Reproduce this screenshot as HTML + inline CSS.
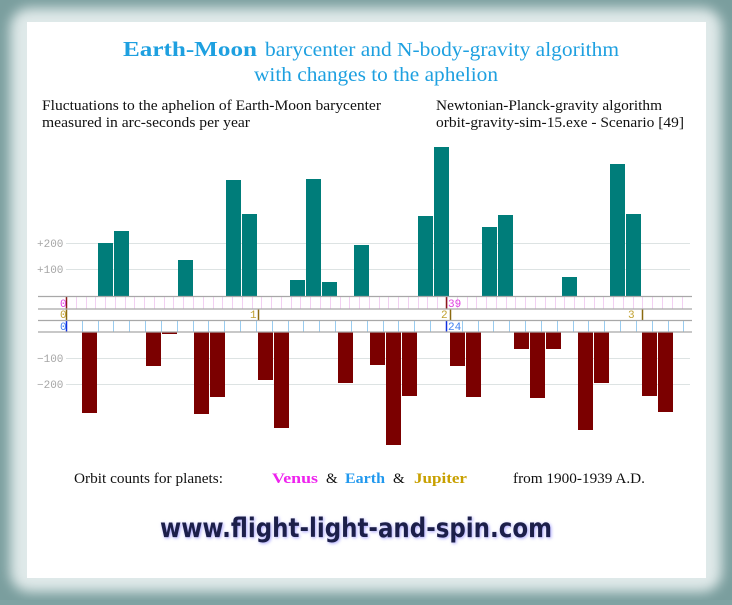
<!DOCTYPE html>
<html><head><meta charset="utf-8"><style>
body{margin:0;width:732px;height:600px;overflow:hidden;background:#7fa3a3;}
</style></head><body>
<svg width="732" height="600" xmlns="http://www.w3.org/2000/svg" font-family="Liberation Serif, serif">
<defs>
<filter id="blur"><feGaussianBlur stdDeviation="6"/></filter>
<filter id="glow"><feGaussianBlur stdDeviation="1.5"/></filter>
</defs>
<rect width="732" height="600" fill="#7a9e9e"/>
<rect x="10" y="8" width="712" height="584" rx="20" fill="#dfe9e9" filter="url(#blur)"/>
<rect x="27" y="22" width="679" height="556" fill="#fff"/>
<text x="123" y="56" font-size="21" fill="#1ea0e0" font-weight="bold" textLength="134" lengthAdjust="spacingAndGlyphs">Earth-Moon</text>
<text x="265" y="56" font-size="20" fill="#1ea0e0" textLength="354" lengthAdjust="spacingAndGlyphs">barycenter and N-body-gravity algorithm</text>
<text x="254" y="81" font-size="20" fill="#1ea0e0" textLength="244" lengthAdjust="spacingAndGlyphs">with changes to the aphelion</text>
<g font-size="15" fill="#111">
<text x="42" y="110" textLength="339" lengthAdjust="spacingAndGlyphs">Fluctuations to the aphelion of Earth-Moon barycenter</text>
<text x="42" y="127" textLength="208" lengthAdjust="spacingAndGlyphs">measured in arc-seconds per year</text>
<text x="436" y="110" textLength="226" lengthAdjust="spacingAndGlyphs">Newtonian-Planck-gravity algorithm</text>
<text x="436" y="127" textLength="248" lengthAdjust="spacingAndGlyphs">orbit-gravity-sim-15.exe - Scenario [49]</text>
</g>
<g stroke="#dde3e3" stroke-width="1">
<line x1="66" y1="243.5" x2="690" y2="243.5"/><line x1="66" y1="269.5" x2="690" y2="269.5"/>
<line x1="66" y1="358.5" x2="690" y2="358.5"/><line x1="66" y1="384.5" x2="690" y2="384.5"/>
</g>
<g font-family="Liberation Mono, monospace" font-size="11" fill="#a6a6a6">
<text x="37" y="247">+200</text><text x="37" y="273">+100</text>
<text x="37" y="362">−100</text><text x="37" y="388">−200</text>
</g>
<g fill="#007d7a">
<rect x="98" y="243" width="15" height="53"/><rect x="114" y="231" width="15" height="65"/>
<rect x="178" y="260" width="15" height="36"/><rect x="226" y="180" width="15" height="116"/>
<rect x="242" y="214" width="15" height="82"/><rect x="290" y="280" width="15" height="16"/>
<rect x="306" y="179" width="15" height="117"/><rect x="322" y="282" width="15" height="14"/>
<rect x="354" y="245" width="15" height="51"/><rect x="418" y="216" width="15" height="80"/>
<rect x="434" y="147" width="15" height="149"/><rect x="482" y="227" width="15" height="69"/>
<rect x="498" y="215" width="15" height="81"/><rect x="562" y="277" width="15" height="19"/>
<rect x="610" y="164" width="15" height="132"/><rect x="626" y="214" width="15" height="82"/>
</g>
<g fill="#7b0000">
<rect x="82" y="332" width="15" height="81"/><rect x="146" y="332" width="15" height="34"/>
<rect x="162" y="332" width="15" height="2"/><rect x="194" y="332" width="15" height="82"/>
<rect x="210" y="332" width="15" height="65"/><rect x="258" y="332" width="15" height="48"/>
<rect x="274" y="332" width="15" height="96"/><rect x="338" y="332" width="15" height="51"/>
<rect x="370" y="332" width="15" height="33"/><rect x="386" y="332" width="15" height="113"/>
<rect x="402" y="332" width="15" height="64"/><rect x="450" y="332" width="15" height="34"/>
<rect x="466" y="332" width="15" height="65"/><rect x="514" y="332" width="15" height="17"/>
<rect x="530" y="332" width="15" height="66"/><rect x="546" y="332" width="15" height="17"/>
<rect x="578" y="332" width="15" height="98"/><rect x="594" y="332" width="15" height="51"/>
<rect x="642" y="332" width="15" height="64"/><rect x="658" y="332" width="15" height="80"/>
</g>
<g id="ticks"></g>
<g stroke="#a8a8a8" stroke-width="1.2">
<line x1="38" y1="296.5" x2="692" y2="296.5"/><line x1="38" y1="309" x2="692" y2="309"/>
<line x1="38" y1="320.5" x2="692" y2="320.5"/><line x1="38" y1="332" x2="692" y2="332"/>
</g>
<g font-size="11" font-family="Liberation Mono, monospace">
<text x="60" y="307" fill="#e040e0">0</text><text x="448" y="307" fill="#e040e0">39</text>
<text x="60" y="318" fill="#c0a030">0</text><text x="250" y="318" fill="#c0a030">1</text><text x="441" y="318" fill="#c0a030">2</text><text x="628" y="318" fill="#c0a030">3</text>
<text x="60" y="330" fill="#4080f0">0</text><text x="448" y="330" fill="#4080f0">24</text>
</g>
<g font-size="15">
<text x="74" y="483" fill="#111" textLength="149" lengthAdjust="spacingAndGlyphs">Orbit counts for planets:</text>
<text x="272" y="483" fill="#ee22ee" font-weight="bold" textLength="46" lengthAdjust="spacingAndGlyphs">Venus</text>
<text x="326" y="483" fill="#111">&amp;</text>
<text x="345" y="483" fill="#2299ee" font-weight="bold" textLength="40" lengthAdjust="spacingAndGlyphs">Earth</text>
<text x="393" y="483" fill="#111">&amp;</text>
<text x="414" y="483" fill="#c8a000" font-weight="bold" textLength="53" lengthAdjust="spacingAndGlyphs">Jupiter</text>
<text x="513" y="483" fill="#111" textLength="132" lengthAdjust="spacingAndGlyphs">from 1900-1939 A.D.</text>
</g>
<text x="161" y="538" font-family="DejaVu Sans, sans-serif" font-size="27" font-weight="bold" fill="#a9a4ff" filter="url(#glow)" textLength="392" lengthAdjust="spacingAndGlyphs">www.flight-light-and-spin.com</text>
<text x="160" y="537" font-family="DejaVu Sans, sans-serif" font-size="27" font-weight="bold" fill="#1c1f4a" textLength="392" lengthAdjust="spacingAndGlyphs">www.flight-light-and-spin.com</text>
<script>
var ns="http://www.w3.org/2000/svg",g=document.getElementById("ticks");
function L(x1,y1,x2,y2,c,w){var l=document.createElementNS(ns,"line");l.setAttribute("x1",x1);l.setAttribute("y1",y1);l.setAttribute("x2",x2);l.setAttribute("y2",y2);l.setAttribute("stroke",c);l.setAttribute("stroke-width",w||1);g.appendChild(l);}
for(var i=1;i<64;i++){var x=Math.round(66+i*9.77)+.5;if(x<690)L(x,297,x,309,"#f2d0f2");}
for(var i=1;i<40;i++){var x=Math.round(66+i*15.83)+.5;if(x<692)L(x,321,x,332,"#99ccf0");}
L(66.5,297,66.5,309,"#8b1a1a",1.5);L(446.5,297,446.5,309,"#8b1a1a",1.5);
L(66.5,309,66.5,320,"#8b6a10",1.5);L(258.5,309,258.5,320,"#8b6a10",1.5);L(450.5,309,450.5,320,"#8b6a10",1.5);L(642.5,309,642.5,320,"#8b6a10",1.5);
L(66.5,321,66.5,332,"#1030e0",1.5);L(446.5,321,446.5,332,"#1030e0",1.5);
</script>
</svg>
</body></html>
